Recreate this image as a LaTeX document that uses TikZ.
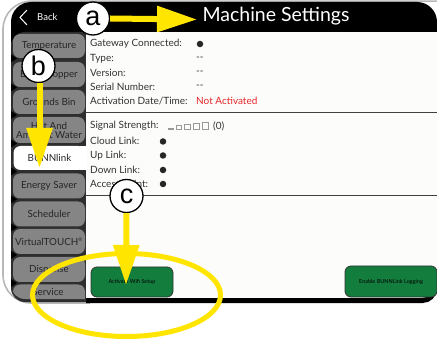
\documentclass[tikz,border=0pt]{standalone}
\usepackage{fontspec}
\setmainfont{Lato}
\newfontfamily\circfont{Liberation Sans}
\usetikzlibrary{arrows.meta}
\definecolor{ylw}{HTML}{FFE500}
\definecolor{tabgray}{HTML}{858585}
\definecolor{btngreen}{HTML}{137D3E}
\definecolor{framegray}{HTML}{B8B8B8}
\definecolor{darkcol}{HTML}{2E2E2E}
\definecolor{notact}{HTML}{E8272A}
\definecolor{panelbg}{HTML}{FCFCFB}
\begin{document}
\begin{tikzpicture}[x=1pt,y=-1pt,
  tabbox/.style={fill=tabgray, rounded corners=7, minimum width=72pt, inner sep=0},
  tablabel/.style={font=\fontsize{9.8}{11}\selectfont, text=black!85, align=center},
  info/.style={font=\fontsize{10}{10}\selectfont, anchor=west, text=black!80, inner sep=0},
  led/.style={circle, fill=black!85, minimum size=6.5pt, inner sep=0},
  callout/.style={circle, draw=black, line width=1.3pt, fill=white, minimum size=33pt, inner sep=0, font=\circfont\fontsize{27}{27}\selectfont},
  yarrow/.style={draw=ylw, line width=6pt, -{Triangle[length=40pt,width=25pt]}},
  btn/.style={draw=black!80, fill=btngreen, rounded corners=6, line width=0.8pt, inner sep=0, font=\fontsize{5.5}{6}\selectfont, text=black}
]
\fill[white] (0,0) rectangle (437,342);
\useasboundingbox (0,0) rectangle (437,342);

% outer frame
\draw[framegray, line width=1.6pt, rounded corners=28] (437,1.2) -- (3,1.2) -- (3,303) -- (90,303);

% header
\fill[black, rounded corners=20] (11,60) -- (11,2) -- (437,2) -- (437,60) -- cycle;

% tab column
\fill[darkcol, rounded corners=14] (11,32) rectangle (100,302);

% content
\fill[panelbg] (86,32) rectangle (437,298);
\draw[black!75, line width=1.6pt] (86,112.5) -- (437,112.5);
\draw[black!75, line width=1.6pt] (86,195.5) -- (437,195.5);

% bottom bar
\draw[black, line width=5pt, rounded corners=12] (86,300.5) -- (434.5,300.5) -- (434.5,286);

% header texts
\draw[white, line width=1pt] (27,10) -- (20,17.5) -- (27,25);
\node[font=\fontsize{9.5}{10}\selectfont, text=white, anchor=west, inner sep=0] (back) at (37,17.5) {Back};
\node[font=\fontsize{19.5}{20}\selectfont, text=white, inner sep=0] (title) at (276,16) {Machine Settings};

% tabs
\begin{scope}
\clip[rounded corners=14] (11,32) rectangle (100,299);
\node[tabbox, minimum height=24pt] (t1) at (49,46) {};
\node[tabbox, minimum height=25pt] (t2) at (49,74.5) {};
\node[tabbox, minimum height=24pt] (t3) at (49,102) {};
\node[tabbox, minimum height=26pt] (t4) at (49,130) {};
\node[tabbox, minimum height=24pt, fill=white] (t5) at (49.5,158) {};
\node[tabbox, minimum height=25pt] (t6) at (49,186) {};
\node[tabbox, minimum height=25pt] (t7) at (49,214) {};
\node[tabbox, minimum height=25pt] (t8) at (49,241.5) {};
\node[tabbox, minimum height=25pt] (t9) at (49,269.5) {};
\node[tabbox, minimum height=25pt] (t10) at (49,297) {};
\end{scope}
\fill[white] (80,146) rectangle (87,170);
\node[tablabel] at (t1) {Temperature};
\node[tablabel] at (t2) {Brew Hopper};
\node[tablabel] at (t3) {Grounds Bin};
\node[tablabel, font=\fontsize{9.8}{10.5}\selectfont] at (t4) {Hot And\\[-1.5pt]Ambient Water};
\node[tablabel] at (t5) {BUNNlink};
\node[tablabel] at (t6) {Energy Saver};
\node[tablabel] at (t7) {Scheduler};
\node[tablabel] at (t8) {VirtualTOUCH\textsuperscript{\tiny ®}};
\node[tablabel] at (t9) {Dispense};
\node[tablabel] at (48,292) {Service};
\foreach \yy in {58.5,87.5,115,143.5,171.5,199.5,227.5,255,283} {
  \fill[black] (11,\yy-4) -- (17,\yy) -- (11,\yy+4) -- cycle;
}

% panel 1
\node[info] (gw) at (90,44) {Gateway Connected:};
\node[info] (ty) at (90,58.5) {Type:};
\node[info] (ve) at (90,72.5) {Version:};
\node[info] (sn) at (90,87) {Serial Number:};
\node[info] (ad) at (90,101) {Activation Date/Time:};
\node[led] (gwled) at (200,44) {};
\node[info] (tyv) at (196,58.5) {{-}{-}};
\node[info] (vev) at (196,72.5) {{-}{-}};
\node[info] (snv) at (196,87) {{-}{-}};
\node[info, text=notact] (adv) at (196,101) {Not Activated};

% panel 2
\node[info] (ss) at (90,126) {Signal Strength:};
\node[info] (cl) at (90,141) {Cloud Link:};
\node[info] (ul) at (90,155.5) {Up Link:};
\node[info] (dl) at (90,170) {Down Link:};
\node[info] (ap) at (90,184) {Access Point:};
\node[led] (clled) at (163,141.5) {};
\node[led] (ulled) at (163,155.5) {};
\node[led] (dlled) at (163,170) {};
\node[led] (apled) at (163,184) {};
\begin{scope}[draw=black!40, line width=0.6pt]
\draw (168,128.5) rectangle (173,129.5);
\draw (176.5,125.5) rectangle (181,129.5);
\draw (184.5,124.5) rectangle (190,129.5);
\draw (193.5,123.5) rectangle (199.5,129.5);
\draw (202.5,122.5) rectangle (208.5,129.5);
\end{scope}
\node[info] (ssv) at (213,126) {(0)};

% buttons
\node[btn, minimum width=82pt, minimum height=30pt] (wifi) at (132,282) {Activate Wifi Setup};
\node[btn, minimum width=92pt, minimum height=31pt] (log) at (391,281.5) {Enable BUNNLink Logging};

% annotations
\node[callout] (a) at (93,18.5) {a};
\node[callout] (b) at (38.5,66) {b};
\node[callout] (c) at (126.5,196) {c};
\coordinate (aend) at (197,19.5);
\coordinate (bend) at (39.5,168);
\coordinate (cend) at (126,285);
\draw[yarrow] (a.east) -- (aend);
\draw[yarrow] (b.south) ++(1,0) -- (bend);
\draw[yarrow] (c.south) -- (cend);
\draw[ylw, line width=5pt] (126.5,295) ellipse [x radius=94, y radius=41.5];
\end{tikzpicture}
\end{document}
